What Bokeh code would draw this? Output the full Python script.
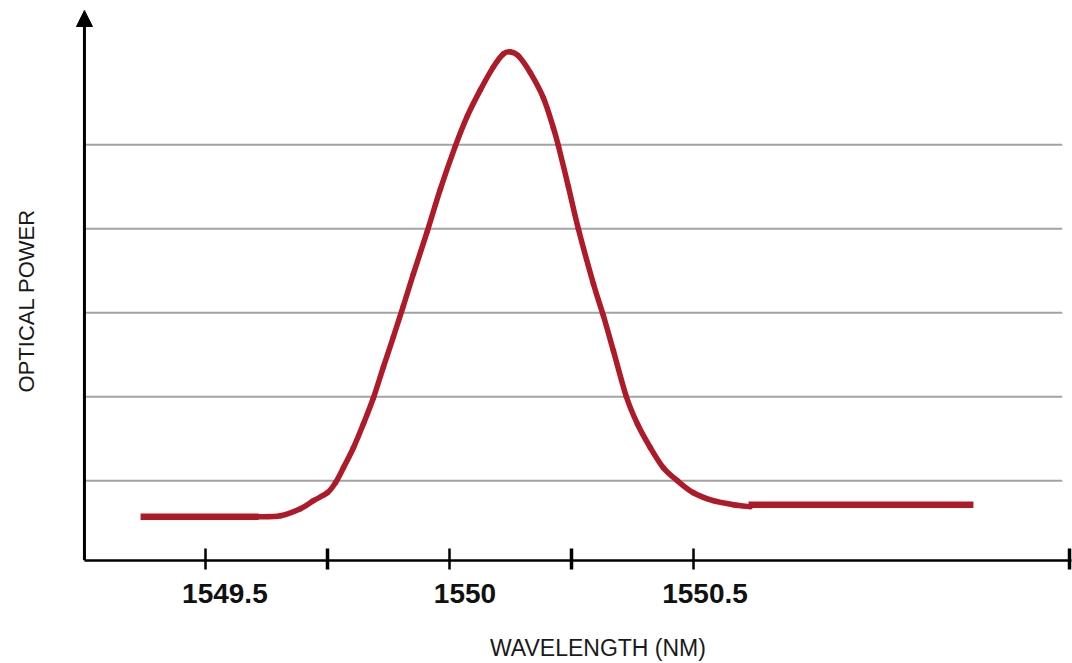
from bokeh.plotting import figure
from bokeh.models import Range1d, FixedTicker, Arrow, NormalHead
from bokeh.embed import file_html
from bokeh.resources import INLINE

# ---- data ----
left_flat_x = [1549.367, 1549.609]
left_flat_y = [0.571, 0.571]

curve_x = [1549.6086, 1549.6537, 1549.6947, 1549.7213, 1549.7500, 1549.7664,
           1549.7828, 1549.8033, 1549.8238, 1549.8443, 1549.8648, 1549.8852,
           1549.9057, 1549.9262, 1549.9549, 1549.9816, 1550.0123, 1550.0369,
           1550.0635, 1550.0902, 1550.1107, 1550.1250, 1550.1414, 1550.1660,
           1550.1926, 1550.2131, 1550.2234, 1550.2439, 1550.2643, 1550.2951,
           1550.3156, 1550.3361, 1550.3627, 1550.3852, 1550.4119, 1550.4385,
           1550.4672, 1550.5000, 1550.5410, 1550.5820, 1550.6168]
curve_y = [0.5714, 0.5833, 0.6667, 0.7619, 0.8571, 0.9762,
           1.1548, 1.3929, 1.6786, 1.9881, 2.3571, 2.7143,
           3.0833, 3.4643, 3.9762, 4.4762, 4.9881, 5.3452,
           5.6548, 5.9286, 6.0833, 6.1071, 6.0595, 5.8571,
           5.5595, 5.2024, 4.9881, 4.5000, 4.0000, 3.3452,
           2.9643, 2.5476, 2.0000, 1.6786, 1.3929, 1.1548,
           1.0000, 0.8571, 0.7619, 0.7143, 0.6905]

right_flat_x = [1550.613, 1551.074]
right_flat_y = [0.714, 0.714]

major_ticks = [1549.5, 1550.0, 1550.5]
major_labels = ["1549.5", "1550", "1550.5"]
minor_ticks = [1549.75, 1550.25, 1551.27]
grid_levels = [1, 2, 3, 4, 5]

X_START, X_AXIS, X_END = 1549.2029, 1549.252, 1551.275
GRID_END = 1551.256
Y_START, Y_END = 0.05, 6.6

RED = "#AF1A28"
NB = "\u00a0"

p = figure(width=1072, height=663,
           x_range=Range1d(X_START, X_END), y_range=Range1d(Y_START, Y_END),
           output_backend="svg", toolbar_location=None,
           min_border_left=60, min_border_right=1,
           min_border_top=10, min_border_bottom=103)
p.outline_line_color = None
p.background_fill_color = "white"
p.border_fill_color = "white"

# horizontal grid lines (start at the y axis)
p.xgrid.visible = False
p.ygrid.visible = False
p.segment(x0=[X_AXIS] * len(grid_levels), y0=grid_levels,
          x1=[GRID_END] * len(grid_levels), y1=grid_levels,
          line_color="#A3A3A3", line_width=2)

# y axis (line drawn as an arrow below)
p.yaxis.ticker = FixedTicker(ticks=[])
p.yaxis.axis_line_color = None
p.yaxis.major_tick_line_color = None
p.yaxis.minor_tick_line_color = None
p.yaxis.axis_label = "OPTICAL POWER" + NB * 5
p.yaxis.axis_label_text_font = "Liberation Sans"
p.yaxis.axis_label_text_font_size = "22px"
p.yaxis.axis_label_text_font_style = "normal"
p.yaxis.axis_label_text_color = "#1a1a1a"
p.yaxis.axis_label_standoff = 22

# x axis
pads = [5, 4, 3]
p.xaxis.bounds = (X_AXIS, X_END)
p.xaxis.ticker = FixedTicker(ticks=major_ticks, minor_ticks=minor_ticks)
p.xaxis.major_label_overrides = {t: NB * n + l for t, l, n in zip(major_ticks, major_labels, pads)}
p.xaxis.axis_line_color = "black"
p.xaxis.axis_line_width = 2.5
p.xaxis.major_tick_in = 12
p.xaxis.major_tick_out = 9
p.xaxis.major_tick_line_width = 2.5
p.xaxis.major_tick_line_color = "black"
p.xaxis.minor_tick_in = 12
p.xaxis.minor_tick_out = 9
p.xaxis.minor_tick_line_width = 3.5
p.xaxis.minor_tick_line_color = "black"
p.xaxis.major_label_text_font = "Liberation Sans"
p.xaxis.major_label_text_font_size = "28px"
p.xaxis.major_label_text_font_style = "bold"
p.xaxis.major_label_text_color = "#111111"
p.xaxis.major_label_standoff = 8
p.xaxis.axis_label = NB * 10 + "WAVELENGTH (NM)"
p.xaxis.axis_label_text_font = "Liberation Sans"
p.xaxis.axis_label_text_font_size = "23px"
p.xaxis.axis_label_text_font_style = "normal"
p.xaxis.axis_label_text_color = "#1a1a1a"
p.xaxis.axis_label_standoff = 23

# data: flat parts as lines, the peak as a smooth curve through the read points
p.line(left_flat_x, left_flat_y, line_color=RED, line_width=6.5)
p.line(right_flat_x, right_flat_y, line_color=RED, line_width=6.5)

n = len(curve_x)
x0, y0, x1, y1, cx0, cy0, cx1, cy1 = [], [], [], [], [], [], [], []
for i in range(n - 1):
    a = max(i - 1, 0)
    b = min(i + 2, n - 1)
    x0.append(curve_x[i]); y0.append(curve_y[i])
    x1.append(curve_x[i + 1]); y1.append(curve_y[i + 1])
    cx0.append(curve_x[i] + (curve_x[i + 1] - curve_x[a]) / 6)
    cy0.append(curve_y[i] + (curve_y[i + 1] - curve_y[a]) / 6)
    cx1.append(curve_x[i + 1] - (curve_x[b] - curve_x[i]) / 6)
    cy1.append(curve_y[i + 1] - (curve_y[b] - curve_y[i]) / 6)
p.bezier(x0=x0, y0=y0, x1=x1, y1=y1, cx0=cx0, cy0=cy0, cx1=cx1, cy1=cy1,
         line_color=RED, line_width=5.5, line_cap="round")

# y axis line with arrow head
p.add_layout(Arrow(x_start=X_AXIS, y_start=Y_START, x_end=X_AXIS, y_end=Y_END,
                   line_color="black", line_width=3,
                   end=NormalHead(size=16, fill_color="black", line_color="black")))

open("out.html", "w").write(file_html(p, INLINE))
